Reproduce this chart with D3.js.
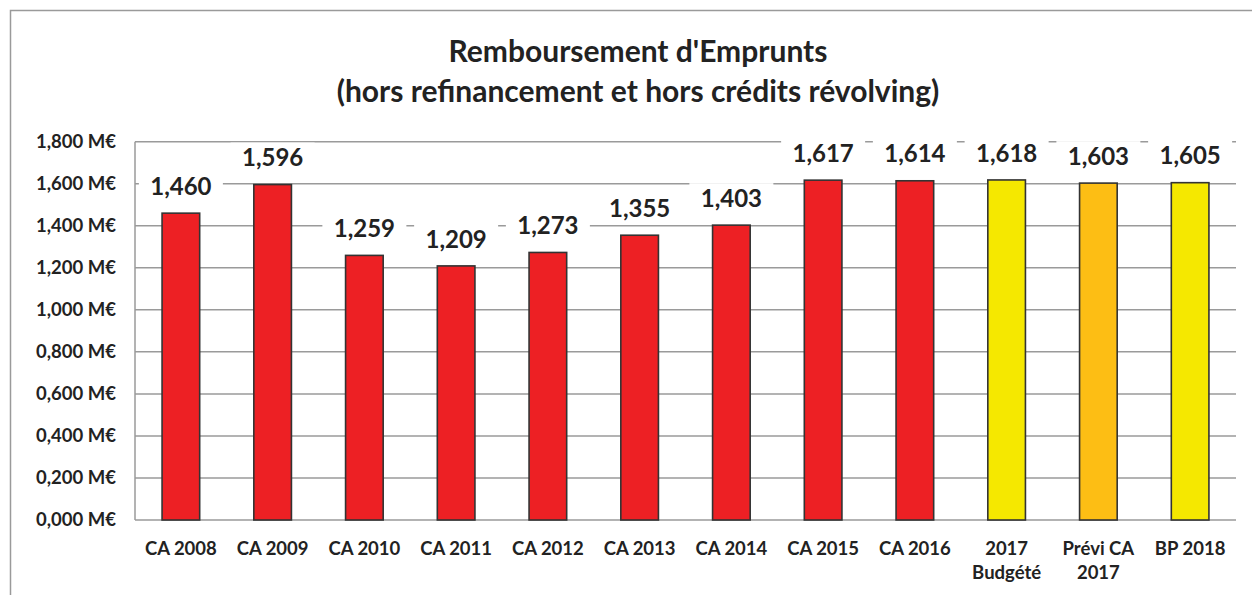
<!DOCTYPE html>
<html><head><meta charset="utf-8">
<script src="https://cdn.jsdelivr.net/npm/d3@7"></script>
<style>
body{margin:0;background:#fff;}
svg{display:block;font-family:Lato,"Open Sans",sans-serif;}
</style></head>
<body><svg id="c" width="1252" height="595"></svg>
<script>
const categories = [["CA 2008"],["CA 2009"],["CA 2010"],["CA 2011"],["CA 2012"],["CA 2013"],["CA 2014"],["CA 2015"],["CA 2016"],["2017","Budgété"],["Prévi CA","2017"],["BP 2018"]];
const values = [1.460,1.596,1.259,1.209,1.273,1.355,1.403,1.617,1.614,1.618,1.603,1.605];
const barColors = ["#ED2024","#ED2024","#ED2024","#ED2024","#ED2024","#ED2024","#ED2024","#ED2024","#ED2024","#F5E800","#FDBE14","#F5E800"];
const yTicks = [0,0.2,0.4,0.6,0.8,1.0,1.2,1.4,1.6,1.8];
const titleLines = ["Remboursement d'Emprunts","(hors refinancement et hors crédits révolving)"];

const svg = d3.select("#c");
const L=135,R=1236,T=141.7,B=520;
svg.append("rect").attr("x",10.5).attr("y",10.5).attr("width",1260).attr("height",620)
  .attr("fill","#fff").attr("stroke","#9a9a9a").attr("stroke-width",1.5);

const x = d3.scaleBand().domain(d3.range(values.length)).range([L,R]).paddingInner(0.59).paddingOuter(0.295);
const y = d3.scaleLinear().domain([0,1.8]).range([B,T]);
const fmt = v => d3.format(".3f")(v).replace(".",",");

// gridlines
svg.append("g").selectAll("line").data(yTicks).join("line")
  .attr("x1",L).attr("x2",R).attr("y1",d=>y(d)).attr("y2",d=>y(d))
  .attr("stroke","#9a9a9a").attr("stroke-width",1.5);
svg.append("line").attr("x1",L).attr("x2",L).attr("y1",T).attr("y2",B)
  .attr("stroke","#9a9a9a").attr("stroke-width",1.5);

// y tick labels
svg.append("g").selectAll("text").data(yTicks).join("text")
  .attr("x",116).attr("y",d=>y(d)).attr("dy","0.35em").attr("text-anchor","end")
  .attr("font-size",18.5).attr("font-weight","bold").attr("fill","#222")
  .text(d=>fmt(d)+" M€");

// bars
svg.append("g").selectAll("rect").data(values).join("rect")
  .attr("x",(d,i)=>x(i)).attr("width",x.bandwidth())
  .attr("y",d=>y(d)).attr("height",d=>B-y(d))
  .attr("fill",(d,i)=>barColors[i]).attr("stroke","#333").attr("stroke-width",1.6);

// data labels with white background
const lg = svg.append("g");
values.forEach((v,i)=>{
  const cx = x(i)+x.bandwidth()/2, cy = y(v)-27;
  lg.append("rect").attr("x",cx-42).attr("y",cy-15).attr("width",84).attr("height",30).attr("fill","#fff");
  lg.append("text").attr("x",cx).attr("y",cy).attr("dy","0.36em").attr("text-anchor","middle")
    .attr("font-size",24).attr("font-weight","bold").attr("fill","#222").text(fmt(v));
});

// x labels
svg.append("g").selectAll("text").data(categories).join("text")
  .attr("x",(d,i)=>x(i)+x.bandwidth()/2).attr("y",555)
  .attr("text-anchor","middle").attr("font-size",18.5).attr("font-weight","bold").attr("fill","#222")
  .each(function(d){
    const t=d3.select(this);
    d.forEach((s,k)=>t.append("tspan").attr("x",t.attr("x")).attr("dy",k?24:0).text(s));
  });

// title
svg.append("g").selectAll("text").data(titleLines).join("text")
  .attr("x",638).attr("y",(d,i)=>62+i*40).attr("text-anchor","middle")
  .attr("font-size",30).attr("font-weight","bold").attr("fill","#222").text(d=>d);
</script></body></html>
